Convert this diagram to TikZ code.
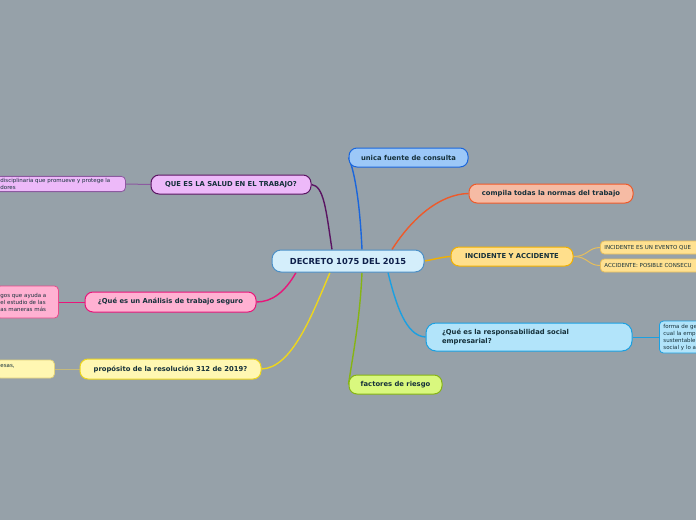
\documentclass[tikz,border=0pt]{standalone}
\usepackage{fontspec}
\setmainfont{DejaVu Sans}
\usetikzlibrary{backgrounds}
\definecolor{bgc}{RGB}{150,161,169}
\definecolor{txt}{HTML}{15303A}
\definecolor{ctxt}{HTML}{0E1F4A}
\definecolor{cfill}{HTML}{D4EEFB}\definecolor{cdraw}{HTML}{4B8FC7}
\definecolor{ufill}{HTML}{9CC8F8}\definecolor{udraw}{HTML}{1A66DC}
\definecolor{kfill}{HTML}{F6BBA4}\definecolor{kdraw}{HTML}{EE5A2A}
\definecolor{ifill}{HTML}{FFDF8C}\definecolor{idraw}{HTML}{F2B000}
\definecolor{isfill}{HTML}{FFE191}\definecolor{isdraw}{HTML}{E6BE5C}
\definecolor{rfill}{HTML}{B2E4FA}\definecolor{rdraw}{HTML}{1BA0E2}
\definecolor{ffill}{HTML}{D9F87E}\definecolor{fdraw}{HTML}{86B414}
\definecolor{pfill}{HTML}{FFF7B2}\definecolor{pdraw}{HTML}{EED61C}
\definecolor{psdraw}{HTML}{E2D27A}
\definecolor{afill}{HTML}{FFB1D2}\definecolor{adraw}{HTML}{E8157A}
\definecolor{asdraw}{HTML}{E84A8A}
\definecolor{sfill}{HTML}{EDB9F9}\definecolor{sdraw}{HTML}{5A1462}
\definecolor{ssdraw}{HTML}{8C5AA0}
\tikzset{
  topic/.style={rounded corners=8pt, line width=1pt, inner sep=0pt, text=txt,
    font=\fontsize{6.8}{8.5}\selectfont\bfseries},
  subtopic/.style={rounded corners=4pt, line width=0.8pt, inner xsep=4pt, inner ysep=2pt,
    text=txt, align=left, font=\fontsize{5.5}{7}\selectfont},
  conn/.style={line width=1.4pt},
  subconn/.style={line width=1pt}
}
\begin{document}
\begin{tikzpicture}[x=1pt,y=-1pt]
\useasboundingbox (0,0) rectangle (696,520);
\clip (0,0) rectangle (696,520);
% central
\node[topic, fill=cfill, draw=cdraw, text=ctxt, rounded corners=9pt,
  minimum width=152pt, minimum height=22pt, font=\fontsize{8.3}{10}\selectfont\bfseries]
  (c) at (348,261) {DECRETO 1075 DEL 2015};
% main topics
\node[topic, fill=ufill, draw=udraw, minimum width=119pt, minimum height=19pt]
  (u) at (408.5,157.5) {unica fuente de consulta};
\node[topic, fill=kfill, draw=kdraw, minimum width=164pt, minimum height=19pt]
  (k) at (551,193.5) {compila todas la normas del trabajo};
\node[topic, fill=ifill, draw=idraw, minimum width=122pt, minimum height=19pt]
  (i) at (512,256.5) {INCIDENTE Y ACCIDENTE};
\node[topic, fill=rfill, draw=rdraw, rounded corners=10pt, minimum width=206pt, minimum height=28pt,
  align=left, text width=174pt, inner xsep=16pt]
  (r) at (529,337) {¿Qué es la responsabilidad social\\empresarial?};
\node[topic, fill=ffill, draw=fdraw, minimum width=93pt, minimum height=19pt]
  (f) at (395.5,384.5) {factores de riesgo};
\node[topic, fill=pfill, draw=pdraw, minimum width=181pt, minimum height=20pt]
  (p) at (170.5,369) {propósito de la resolución 312 de 2019?};
\node[topic, fill=afill, draw=adraw, minimum width=171pt, minimum height=20pt]
  (a) at (170.5,302) {¿Qué es un Análisis de trabajo seguro};
\node[topic, fill=sfill, draw=sdraw, minimum width=160pt, minimum height=19pt]
  (s) at (231,184.5) {QUE ES LA SALUD EN EL TRABAJO?};
% sub topics
\node[subtopic, fill=sfill, draw=ssdraw, anchor=west, text width=121pt]
  (s1) at (-4,184) {disciplinaria que promueve y protege la\\dores};
\node[subtopic, fill=afill, draw=asdraw, anchor=west, text width=54pt, minimum height=32pt]
  (a1) at (-4,302) {gos que ayuda a\\el estudio de las\\as maneras más};
\node[subtopic, fill=pfill, draw=psdraw, anchor=west, text width=50pt, minimum height=18pt]
  (p1) at (-4,369) {esas,\\\mbox{}};
\node[subtopic, fill=isfill, draw=isdraw, anchor=west, text width=110pt, minimum height=13pt, inner ysep=1pt]
  (i1) at (600,247.5) {INCIDENTE ES UN EVENTO QUE};
\node[subtopic, fill=isfill, draw=isdraw, anchor=west, text width=110pt, minimum height=13pt, inner ysep=1pt]
  (i2) at (600,265.5) {ACCIDENTE: POSIBLE CONSECU};
\node[subtopic, fill=rfill, draw=rdraw, anchor=west, text width=60pt, minimum height=32pt, inner ysep=1pt]
  (r1) at (659,337) {forma de ge\\cual la empr\\sustentable\\social y lo a};
\begin{pgfonlayer}{background}
\fill[bgc] (0,0) rectangle (696,520);
\draw[conn, udraw] ([xshift=14pt]c.north) .. controls (360,205) and (355,172) .. (u.west);
\draw[conn, kdraw] ([xshift=44pt]c.north) .. controls (412,218) and (440,194) .. (k.west);
\draw[conn, idraw] (c.east) .. controls (436,259) and (442,257) .. (i.west);
\draw[conn, rdraw] ([xshift=40pt]c.south) .. controls (396,305) and (406,336) .. (r.west);
\draw[conn, fdraw] ([xshift=14pt]c.south) .. controls (360,320) and (352,360) .. (f.west);
\draw[conn, pdraw] ([xshift=-18pt]c.south) .. controls (312,315) and (292,368) .. (p.east);
\draw[conn, adraw] ([xshift=-52pt]c.south) .. controls (285,292) and (272,302) .. (a.east);
\draw[conn, sdraw] ([xshift=-16pt]c.north) .. controls (326,210) and (324,186) .. (s.east);
\draw[subconn, ssdraw] (s.west) -- (s1.east);
\draw[subconn, adraw] (a.west) -- (a1.east);
\draw[subconn, psdraw!70!gray] (p.west) -- (p1.east);
\draw[subconn, rdraw] (r.east) -- (r1.west);
\draw[subconn, isdraw] (i.east) .. controls (588,256.5) and (588,247.5) .. (i1.west);
\draw[subconn, isdraw] (i.east) .. controls (588,256.5) and (588,265.5) .. (i2.west);
\end{pgfonlayer}
\end{tikzpicture}
\end{document}
